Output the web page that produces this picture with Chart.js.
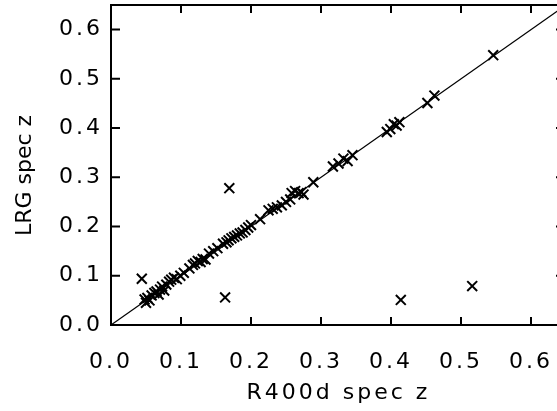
<!DOCTYPE html>
<html>
<head>
    <title>LRG vs R400d spec z</title>
    <script src="https://cdn.jsdelivr.net/npm/chart.js"></script>
    <style>
        html, body { margin: 0; padding: 0; background: #fff; overflow: hidden; }
        #wrap { position: absolute; left: 0; top: 0; width: 570px; height: 411px; }
    </style>
</head>
<body>
    <div id="wrap">
        <canvas id="zGraph" width="570" height="411"></canvas>
    </div>

    <script>
        // redshift pairs
        var r400dZ = [0.048, 0.050, 0.052, 0.055, 0.058, 0.062, 0.065, 0.068, 0.070, 0.073,
                      0.076, 0.079, 0.083, 0.086, 0.090, 0.094, 0.099, 0.104, 0.112, 0.117,
                      0.120, 0.124, 0.128, 0.131, 0.135, 0.140, 0.146, 0.152, 0.160, 0.165,
                      0.168, 0.172, 0.176, 0.180, 0.184, 0.188, 0.192, 0.196, 0.200, 0.213,
                      0.225, 0.231, 0.237, 0.244, 0.250, 0.256, 0.258, 0.263, 0.268, 0.272,
                      0.275, 0.289, 0.317, 0.325, 0.332, 0.338, 0.345, 0.394, 0.399, 0.404,
                      0.408, 0.412, 0.452, 0.462, 0.546,
                      0.044, 0.163, 0.169, 0.414, 0.516];
        var lrgZ   = [0.052, 0.045, 0.055, 0.050, 0.060, 0.065, 0.068, 0.062, 0.072, 0.078,
                      0.070, 0.082, 0.088, 0.092, 0.096, 0.093, 0.100, 0.106, 0.115, 0.122,
                      0.125, 0.130, 0.128, 0.134, 0.133, 0.145, 0.150, 0.156, 0.165, 0.168,
                      0.172, 0.176, 0.179, 0.182, 0.186, 0.188, 0.193, 0.198, 0.203, 0.215,
                      0.233, 0.236, 0.239, 0.243, 0.250, 0.255, 0.268, 0.272, 0.268, 0.270,
                      0.265, 0.290, 0.322, 0.328, 0.338, 0.333, 0.345, 0.392, 0.398, 0.408,
                      0.405, 0.412, 0.451, 0.466, 0.548,
                      0.094, 0.056, 0.278, 0.051, 0.079];
        // one-to-one line
        var lineZ = [0, 0.65];
        var tickValues = [0.0, 0.1, 0.2, 0.3, 0.4, 0.5, 0.6];

        var points = r400dZ.map(function (x, i) { return { x: x, y: lrgZ[i] }; });
        var linePts = lineZ.map(function (v) { return { x: v, y: v }; });

        var FONT = { family: "DejaVu Sans", size: 22 };

        // wide spacing for the labels (the original font is very wide),
        // but not for the y title which is narrower
        var spacingPlugin = {
            id: "spacing",
            beforeDraw: function (chart) {
                chart.ctx.letterSpacing = "3px";
                var ys = chart.scales.y;
                if (!ys._plainTitle) {
                    var orig = ys.drawTitle;
                    ys.drawTitle = function () {
                        var c = this.ctx, old = c.letterSpacing;
                        c.letterSpacing = "0px";
                        orig.apply(this, arguments);
                        c.letterSpacing = old;
                    };
                    ys._plainTitle = true;
                }
            }
        };

        // frame with inward tick marks, like the original plot
        var framePlugin = {
            id: "frame",
            afterDraw: function (chart) {
                var ctx = chart.ctx, a = chart.chartArea;
                var xs = chart.scales.x, ys = chart.scales.y;
                ctx.save();
                ctx.strokeStyle = "#000";
                ctx.lineWidth = 2;
                ctx.strokeRect(a.left, a.top, a.right - a.left, a.bottom - a.top);
                ctx.beginPath();
                tickValues.forEach(function (v) {
                    var px = xs.getPixelForValue(v);
                    ctx.moveTo(px, a.bottom); ctx.lineTo(px, a.bottom - 8);
                    ctx.moveTo(px, a.top); ctx.lineTo(px, a.top + 8);
                    var py = ys.getPixelForValue(v);
                    ctx.moveTo(a.left, py); ctx.lineTo(a.left + 9, py);
                    ctx.moveTo(a.right, py); ctx.lineTo(a.right - 10, py);
                });
                ctx.stroke();
                ctx.restore();
            }
        };

        function noEdgePadding(scale) {
            scale.paddingTop = 0;
            scale.paddingBottom = 0;
            scale.paddingLeft = 0;
            scale.paddingRight = 0;
        }

        var ctx = document.getElementById("zGraph").getContext("2d");
        var myChart = new Chart(ctx, {
            type: "scatter",
            data: {
                datasets: [
                    {
                        label: "spec z",
                        data: points,
                        pointStyle: "crossRot",
                        pointRadius: 7,
                        pointHoverRadius: 7,
                        borderColor: "#000",
                        backgroundColor: "#000",
                        borderWidth: 2
                    },
                    {
                        type: "line",
                        label: "1:1",
                        data: linePts,
                        borderColor: "#000",
                        borderWidth: 1.2,
                        pointRadius: 0,
                        fill: false
                    }
                ]
            },
            options: {
                responsive: false,
                animation: false,
                events: [],
                layout: { autoPadding: false, padding: { top: 5, right: 4, left: 0, bottom: 0 } },
                plugins: { legend: { display: false }, tooltip: { enabled: false } },
                scales: {
                    x: {
                        type: "linear",
                        min: 0,
                        max: 0.65,
                        afterBuildTicks: function (scale) {
                            scale.ticks = tickValues.map(function (v) { return { value: v }; });
                        },
                        afterFit: function (scale) { scale.height = 86; noEdgePadding(scale); },
                        grid: { display: false },
                        border: { display: false },
                        ticks: {
                            color: "#000",
                            font: FONT,
                            padding: 16,
                            maxRotation: 0,
                            callback: function (v) { return v.toFixed(1); }
                        },
                        title: {
                            display: true,
                            text: "R400d spec z",
                            color: "#000",
                            font: FONT,
                            padding: { top: 0, bottom: 5 }
                        }
                    },
                    y: {
                        type: "linear",
                        min: 0,
                        max: 0.65,
                        afterBuildTicks: function (scale) {
                            scale.ticks = tickValues.map(function (v) { return { value: v }; });
                        },
                        afterFit: function (scale) { scale.width = 111; noEdgePadding(scale); },
                        grid: { display: false },
                        border: { display: false },
                        ticks: {
                            color: "#000",
                            font: FONT,
                            padding: 0,
                            callback: function (v) { return v.toFixed(1); }
                        },
                        title: {
                            display: true,
                            text: "LRG spec z   ",
                            color: "#000",
                            font: FONT,
                            padding: { top: 12, bottom: 0 }
                        }
                    }
                }
            },
            plugins: [spacingPlugin, framePlugin]
        });
    </script>
</body>
</html>
